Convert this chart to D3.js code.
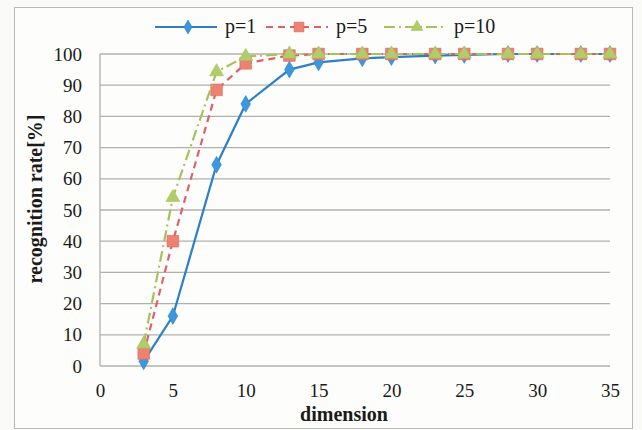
<!DOCTYPE html>
<html>
<head>
<meta charset="utf-8">
<script src="https://cdn.jsdelivr.net/npm/d3@7"></script>
<style>
  body { margin: 0; background: #fafaf7; }
  svg { display: block; }
  text { font-family: "Liberation Serif", "Times New Roman", serif; }
</style>
</head>
<body>
<div class="chart"></div>
<script>
var dims = [3, 5, 8, 10, 13, 15, 18, 20, 23, 25, 28, 30, 33, 35];
var p1 = [1.5, 16, 64.5, 84, 95, 97.3, 98.6, 99, 99.5, 99.7, 100, 100, 100, 100];
var p5 = [4, 40, 88.5, 97, 99.5, 100, 100, 100, 100, 100, 100, 100, 100, 100];
var p10 = [7, 54, 94.3, 99.2, 100, 100, 100, 100, 100, 100, 100, 100, 100, 100];
var xTicks = [0, 5, 10, 15, 20, 25, 30, 35];
var yTicks = [0, 10, 20, 30, 40, 50, 60, 70, 80, 90, 100];

var width = 642, height = 430;
var margin = {left: 100, right: 32, top: 54, bottom: 64};

var svg = d3.select(".chart").append("svg")
    .attr("width", width)
    .attr("height", height);

// outer frame
svg.append("rect")
    .attr("x", 14.5).attr("y", 7.5)
    .attr("width", 618).attr("height", 421)
    .attr("fill", "#fdfdfb")
    .attr("stroke", "#b8b8b8");

var x = d3.scaleLinear().domain([0, 35]).range([margin.left, width - margin.right]);
var y = d3.scaleLinear().domain([0, 100]).range([height - margin.bottom, margin.top]);

// gridlines
svg.append("g")
    .selectAll("line")
    .data(yTicks)
    .enter().append("line")
    .attr("x1", x(0)).attr("x2", x(35))
    .attr("y1", function (d) { return y(d); })
    .attr("y2", function (d) { return y(d); })
    .attr("stroke", "#b0b0b0")
    .attr("stroke-width", 1.3);

svg.append("line")
    .attr("x1", x(0)).attr("x2", x(0))
    .attr("y1", y(0)).attr("y2", y(100))
    .attr("stroke", "#b0b0b0")
    .attr("stroke-width", 1.3);

// axes
var yAxis = svg.append("g")
    .attr("transform", "translate(" + x(0) + ",0)")
    .call(d3.axisLeft(y).tickValues(yTicks).tickSize(0).tickPadding(18));
var xAxis = svg.append("g")
    .attr("transform", "translate(0," + y(0) + ")")
    .call(d3.axisBottom(x).tickValues(xTicks).tickSize(0).tickPadding(18));
[xAxis, yAxis].forEach(function (a) {
    a.attr("font-family", null).attr("font-size", null);
    a.select(".domain").remove();
    a.selectAll("text")
        .style("font-size", "19px")
        .attr("fill", "#1a1a1a");
});

svg.append("text")
    .attr("x", 344)
    .attr("y", 421)
    .attr("text-anchor", "middle")
    .style("font-size", "20px")
    .style("font-weight", "bold")
    .attr("fill", "#1a1a1a")
    .text("dimension");

svg.append("text")
    .attr("transform", "translate(42,199) rotate(-90)")
    .attr("text-anchor", "middle")
    .style("font-size", "20px")
    .style("font-weight", "bold")
    .attr("fill", "#1a1a1a")
    .text("recognition rate[%]");

var series = [
    {name: "p=1", values: p1, color: "#2d7fc6", dash: null, shape: d3.symbolDiamond, fill: "#3a98de", size: 80},
    {name: "p=5", values: p5, color: "#e0606a", dash: "7,5", shape: d3.symbolSquare, fill: "#ec8270", size: 135},
    {name: "p=10", values: p10, color: "#a6c25a", dash: "11,4,2,4", shape: d3.symbolTriangle, fill: "#b2cc6a", size: 85}
];

var line = d3.line()
    .x(function (d) { return x(d[0]); })
    .y(function (d) { return y(d[1]); });

series.forEach(function (s) {
    var pts = dims.map(function (d, i) { return [d, s.values[i]]; });
    svg.append("path")
        .datum(pts)
        .attr("d", line)
        .attr("fill", "none")
        .attr("stroke", s.color)
        .attr("stroke-width", 2.2)
        .attr("stroke-dasharray", s.dash);
    svg.append("g")
        .selectAll("path")
        .data(pts)
        .enter().append("path")
        .attr("transform", function (d) { return "translate(" + x(d[0]) + "," + y(d[1]) + ")"; })
        .attr("d", d3.symbol().type(s.shape).size(s.size))
        .attr("fill", s.fill)
        .attr("stroke", s.color)
        .attr("stroke-width", 0.6);
});

// legend
var legendX = [155, 266, 384];
var legend = svg.append("g");
series.forEach(function (s, i) {
    var g = legend.append("g").attr("transform", "translate(" + legendX[i] + ",27)");
    g.append("line")
        .attr("x1", 0).attr("x2", 62)
        .attr("stroke", s.color)
        .attr("stroke-width", 2.2)
        .attr("stroke-dasharray", s.dash);
    g.append("path")
        .attr("transform", "translate(33,0)")
        .attr("d", d3.symbol().type(s.shape).size(s.size * 0.7))
        .attr("fill", s.fill)
        .attr("stroke", s.color)
        .attr("stroke-width", 0.6);
    g.append("text")
        .attr("x", 70).attr("y", 6)
        .style("font-size", "20px")
        .attr("fill", "#1a1a1a")
        .text(s.name);
});
</script>
</body>
</html>
